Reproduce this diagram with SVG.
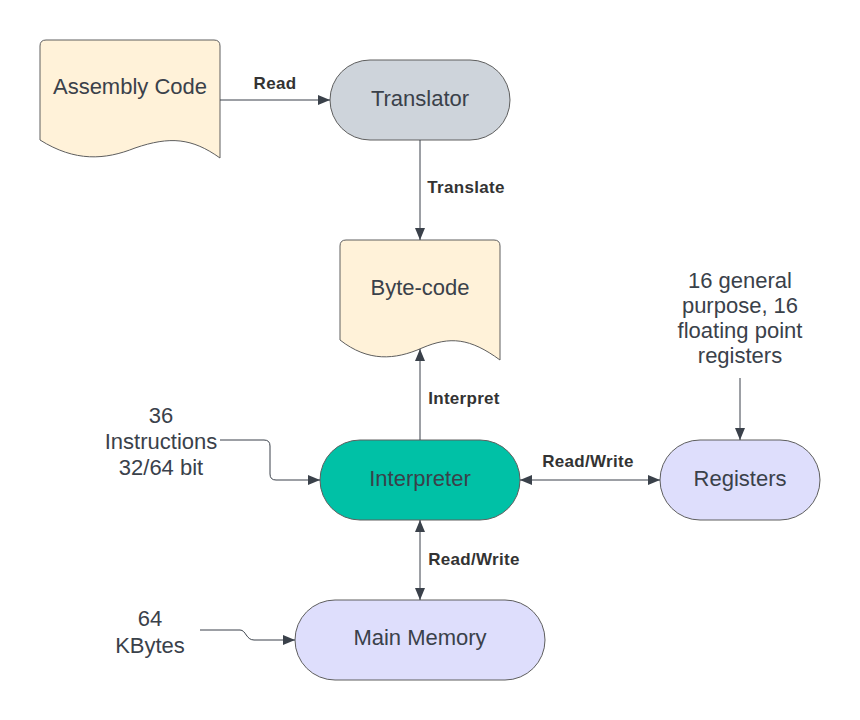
<svg xmlns="http://www.w3.org/2000/svg" width="860" height="720" viewBox="0 0 860 720">
<defs>
<marker id="ah" viewBox="0 0 12 10" refX="12" refY="5" markerWidth="12" markerHeight="10" markerUnits="userSpaceOnUse" orient="auto-start-reverse">
<path d="M0,0 L12,5 L0,10 Z" fill="#3a414a"/>
</marker>
<style>
.node{stroke:#5e5e5e;stroke-width:1}
.t{font-family:"Liberation Sans",Arial,sans-serif;font-size:22px;fill:#3a414a;text-anchor:middle}
.l{font-family:"Liberation Sans",Arial,sans-serif;font-size:17px;font-weight:bold;letter-spacing:0.3px;fill:#333333;text-anchor:middle}
.c{fill:none;stroke:#3a414a;stroke-width:1}
</style>
</defs>
<rect width="860" height="720" fill="#ffffff"/>
<g id="assembly">
<path class="node" fill="#fff2d9" d="M40,140 L40,46 Q40,40 46,40 L214,40 Q220,40 220,46 L220,158 C192,138 170,136 135,148 C105,160 75,162 40,140 Z"/>
<text class="t" x="130" y="94">Assembly Code</text>
</g>
<g id="translator">
<rect class="node" x="330" y="60" width="180" height="80" rx="40" fill="#ced4db"/>
<text class="t" x="420" y="106">Translator</text>
</g>
<g id="bytecode">
<path class="node" fill="#fff2d9" d="M340,340 L340,246 Q340,240 346,240 L494,240 Q500,240 500,246 L500,360 C470,338 450,336 422,348 C395,360 368,362 340,340 Z"/>
<text class="t" x="420" y="295">Byte-code</text>
</g>
<g id="interpreter">
<rect class="node" x="320" y="440" width="200" height="80" rx="40" fill="#00c1a6"/>
<text class="t" x="420" y="486">Interpreter</text>
</g>
<g id="registers">
<rect class="node" x="660" y="440" width="160" height="80" rx="40" fill="#dedefc"/>
<text class="t" x="740" y="486">Registers</text>
</g>
<g id="memory">
<rect class="node" x="295" y="600" width="250" height="80" rx="40" fill="#dedefc"/>
<text class="t" x="420" y="645">Main Memory</text>
</g>
<g id="reg-note">
<text class="t" x="740" y="288">16 general</text>
<text class="t" x="740" y="313">purpose, 16</text>
<text class="t" x="740" y="338">floating point</text>
<text class="t" x="740" y="363">registers</text>
</g>
<g id="instr-note">
<text class="t" x="161" y="423">36</text>
<text class="t" x="161" y="449">Instructions</text>
<text class="t" x="161" y="475">32/64 bit</text>
</g>
<g id="mem-note">
<text class="t" x="150" y="626">64</text>
<text class="t" x="150" y="653">KBytes</text>
</g>
<g id="connectors">
<path class="c" d="M220,100 L330,100" marker-end="url(#ah)"/>
<text class="l" x="275" y="89">Read</text>
<path class="c" d="M420,140 L420,240" marker-end="url(#ah)"/>
<text class="l" x="466" y="193">Translate</text>
<path class="c" d="M420,440 L420,349" marker-end="url(#ah)"/>
<text class="l" x="464" y="404">Interpret</text>
<path class="c" d="M520,480 L660,480" marker-start="url(#ah)" marker-end="url(#ah)"/>
<text class="l" x="588" y="467">Read/Write</text>
<path class="c" d="M420,520 L420,600" marker-start="url(#ah)" marker-end="url(#ah)"/>
<text class="l" x="474" y="565">Read/Write</text>
<path class="c" d="M740,378 L740,440" marker-end="url(#ah)"/>
<path class="c" d="M220,440 L264,440 Q270,440 270,446 L270,474 Q270,480 276,480 L320,480" marker-end="url(#ah)"/>
<path class="c" d="M200,630 L240,630 C246,630 246,640 254,640 L295,640" marker-end="url(#ah)"/>
</g>
</svg>
